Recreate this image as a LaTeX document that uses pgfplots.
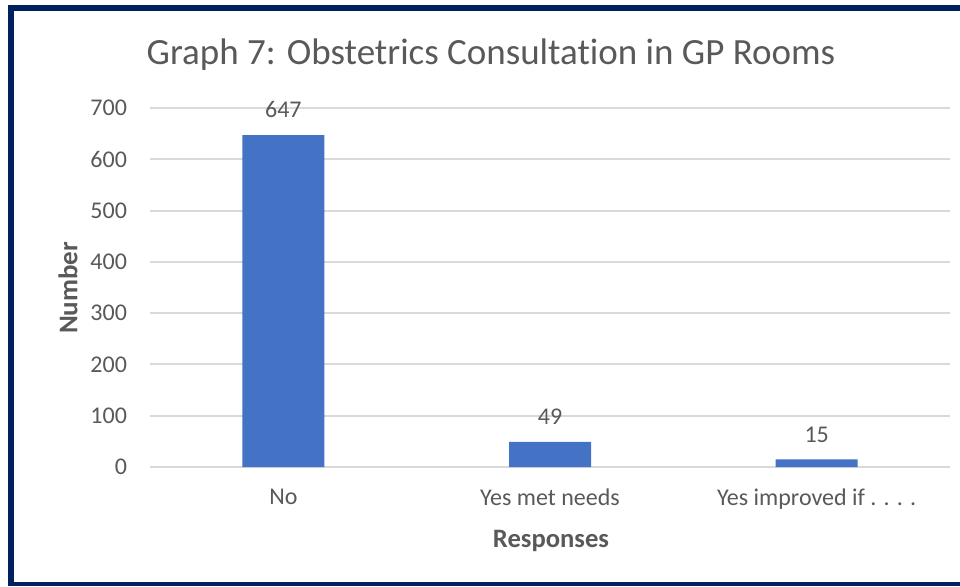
\documentclass[border=0pt]{standalone}
\usepackage{pgfplots}
\pgfplotsset{compat=1.18}
\usepackage{fontspec}
\setmainfont{Carlito}[Ligatures=NoCommon]
\definecolor{navy}{HTML}{002060}
\definecolor{txtgray}{HTML}{595959}
\definecolor{gridgray}{HTML}{D9D9D9}
\definecolor{barblue}{HTML}{4472C4}
\begin{document}
\begin{tikzpicture}[x=1pt,y=1pt]
\path[use as bounding box] (0,0) rectangle (480,293);
\fill[navy] (4,0) rectangle (7,290.5);
\fill[navy] (4,287.5) rectangle (480,290.5);
\fill[navy] (4,0) rectangle (480,1.8);
\node[text=txtgray,font=\fontsize{18.5}{20}\selectfont] at (245.5,265.5) {Graph 7: Obstetrics Consultation in GP Rooms};
\node[text=txtgray,font=\fontsize{13.5}{15}\selectfont\bfseries,rotate=90] at (34,149) {Number};
\node[text=txtgray,font=\fontsize{13.3}{15}\selectfont\bfseries] at (275.5,22.5) {Responses};
\begin{axis}[
  at={(75pt,59.5pt)}, anchor=south west,
  scale only axis, width=400pt, height=179.5pt,
  xmin=-0.5, xmax=2.5, ymin=0, ymax=700,
  ytick={0,100,...,700},
  xtick={0,1,2},
  xticklabels={No,Yes met needs,Yes improved if . . . .},
  axis line style={draw=none},
  ymajorgrids, grid style={gridgray,line width=1pt},
  major tick length=0pt,
  tick label style={text=txtgray,font=\fontsize{12}{13}\selectfont},
  /pgf/number format/assume math mode=true,
  yticklabel style={xshift=-8pt},
  xticklabel style={yshift=-7.5pt},
  ybar, bar width=41pt,
  nodes near coords,
  nodes near coords style={text=txtgray,font=\fontsize{12}{13}\selectfont, yshift=5pt},
  clip=false,
]
\addplot[fill=barblue, draw=none] coordinates {(0,647) (1,49) (2,15)};
\end{axis}
\end{tikzpicture}
\end{document}
